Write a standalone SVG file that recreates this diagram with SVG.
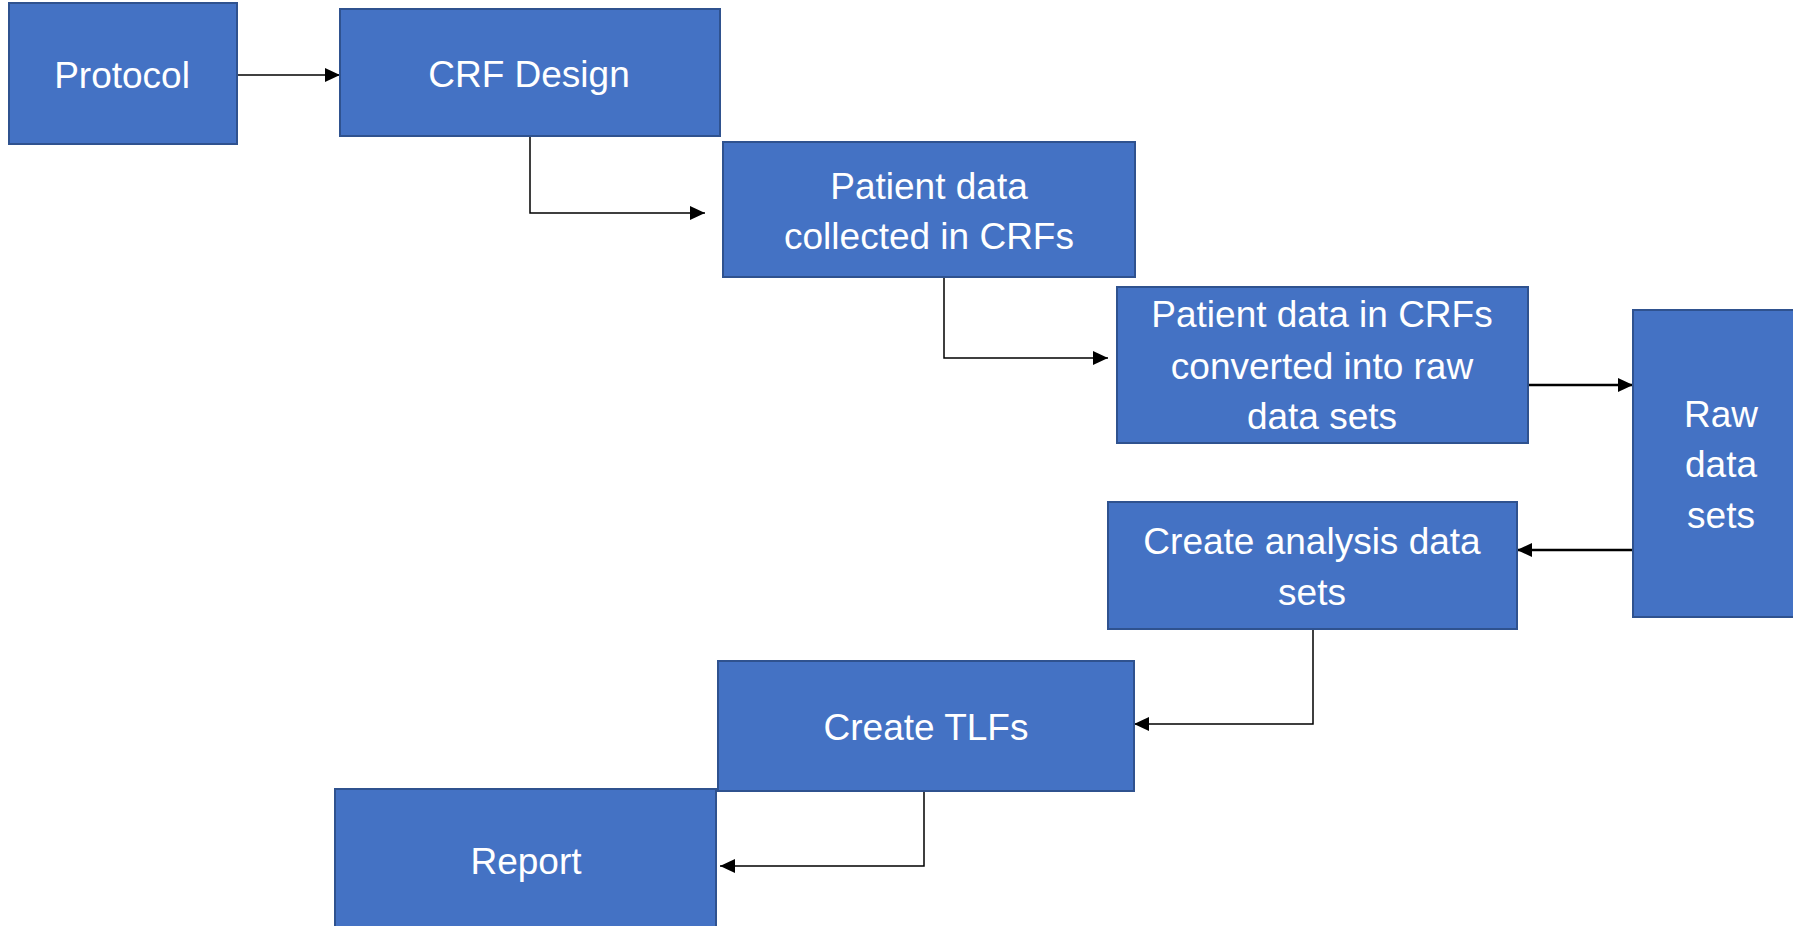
<svg xmlns="http://www.w3.org/2000/svg" width="1793" height="926" viewBox="0 0 1793 926">
<defs>
<style>
.box{fill:#4472C4;stroke:#2F528F;stroke-width:2}
.lbl{font-family:"Liberation Sans",Arial,sans-serif;font-size:37px;fill:#ffffff;text-anchor:middle}
.conn{fill:none;stroke:#000;stroke-width:1.5}
.thick{stroke-width:2.5}
</style>
<marker id="ah" markerUnits="userSpaceOnUse" markerWidth="16" markerHeight="14" refX="15" refY="7" orient="auto">
<path d="M0,0 L15,7 L0,14 z" fill="#000"/>
</marker>
</defs>
<rect width="1793" height="926" fill="#fff"/>
<g id="connectors">
<path class="conn" d="M237,75 L340,75" marker-end="url(#ah)"/>
<path class="conn" d="M530,136 V213 H705" marker-end="url(#ah)"/>
<path class="conn" d="M944,278 V358 H1108" marker-end="url(#ah)"/>
<path class="conn thick" d="M1528,385 H1633" marker-end="url(#ah)"/>
<path class="conn thick" d="M1632,550 H1517" marker-end="url(#ah)"/>
<path class="conn" d="M1313,630 V724 H1134" marker-end="url(#ah)"/>
<path class="conn" d="M924,791 V866 H720" marker-end="url(#ah)"/>
</g>
<g id="protocol">
<rect class="box" x="9" y="3" width="228" height="141"/>
<text class="lbl" x="122" y="88">Protocol</text>
</g>
<g id="crf-design">
<rect class="box" x="340" y="9" width="380" height="127"/>
<text class="lbl" x="529" y="87">CRF Design</text>
</g>
<g id="patient-data-collected">
<rect class="box" x="723" y="142" width="412" height="135"/>
<text class="lbl" x="929" y="199">Patient data</text>
<text class="lbl" x="929" y="249">collected in CRFs</text>
</g>
<g id="patient-data-converted">
<rect class="box" x="1117" y="287" width="411" height="156"/>
<text class="lbl" x="1322" y="327">Patient data in CRFs</text>
<text class="lbl" x="1322" y="379">converted into raw</text>
<text class="lbl" x="1322" y="429">data sets</text>
</g>
<g id="raw-data-sets">
<rect class="box" x="1633" y="310" width="170" height="307"/>
<text class="lbl" x="1721" y="427">Raw</text>
<text class="lbl" x="1721" y="477">data</text>
<text class="lbl" x="1721" y="528">sets</text>
</g>
<g id="create-analysis">
<rect class="box" x="1108" y="502" width="409" height="127"/>
<text class="lbl" x="1312" y="554">Create analysis data</text>
<text class="lbl" x="1312" y="605">sets</text>
</g>
<g id="create-tlfs">
<rect class="box" x="718" y="661" width="416" height="130"/>
<text class="lbl" x="926" y="740">Create TLFs</text>
</g>
<g id="report">
<rect class="box" x="335" y="789" width="381" height="150"/>
<text class="lbl" x="526" y="874">Report</text>
</g>
</svg>
